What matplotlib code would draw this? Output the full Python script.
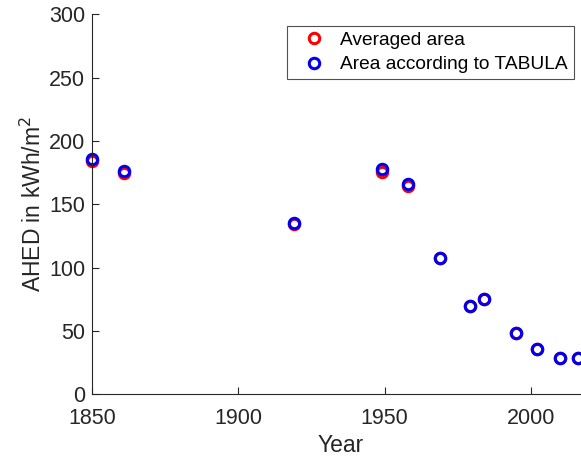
import matplotlib
matplotlib.use("Agg")
import matplotlib.pyplot as plt

years = [1850, 1861, 1919, 1949, 1958, 1969, 1979, 1984, 1995, 2002, 2010, 2016]
averaged_area = [184.5, 174.5, 134, 175.5, 164.5, 107.5, 69.6, 75.3, 48, 35.8, 28.2, 28.2]
tabula_area = [186, 176, 135.5, 177.5, 166, 107.5, 69.6, 75.3, 48, 35.8, 28.2, 28.2]
xticks = [1850, 1900, 1950, 2000]
yticks = [0, 50, 100, 150, 200, 250, 300]

plt.rcParams['font.family'] = ['Liberation Sans', 'DejaVu Sans']

fig = plt.figure(figsize=(5.81, 4.59), dpi=100)
W, H = 581, 459
left, bottom, top = 92, 394, 14.5
px_per_year = (531 - 92) / 150.0
xmax = 2020
width_px = (xmax - 1850) * px_per_year
ax = fig.add_axes([left / W, (H - bottom) / H, width_px / W, (bottom - top) / H])

ax.plot(years, averaged_area, 'o', mfc='none', mec='#ff0000', ms=7.5, mew=2.2,
        label='Averaged area', clip_on=False)
ax.plot(years, tabula_area, 'o', mfc='none', mec='#0000ee', ms=7.5, mew=2.2,
        label='Area according to TABULA', clip_on=False)

ax.set_xlim(1850, xmax)
ax.set_ylim(0, 300)
ax.set_xticks(xticks)
ax.set_yticks(yticks)
for s in ['top', 'right']:
    ax.spines[s].set_visible(False)
for s in ['left', 'bottom']:
    ax.spines[s].set_color('#262626')
    ax.spines[s].set_linewidth(0.8)
ax.tick_params(direction='in', length=5, width=0.8, colors='#262626',
               labelsize=15.5, labelcolor='#262626')
ax.tick_params(axis='x', pad=10)
ax.tick_params(axis='y', pad=5)
ax.set_xlabel('Year', fontsize=16.5, color='#262626', labelpad=4)
ax.set_ylabel('AHED in kWh/m$^2$', fontsize=16.5, color='#262626', labelpad=2)

leg = ax.legend(loc='upper left', bbox_to_anchor=((287 - left) / width_px, (bottom - 26) / (bottom - top)),
                fontsize=13.8, frameon=True, fancybox=False, edgecolor='#262626',
                handletextpad=0.28, borderpad=0.3, labelspacing=0.35, handlelength=2.2,
                borderaxespad=0)
leg.get_frame().set_linewidth(0.8)

fig.savefig('out.png', dpi=100)
